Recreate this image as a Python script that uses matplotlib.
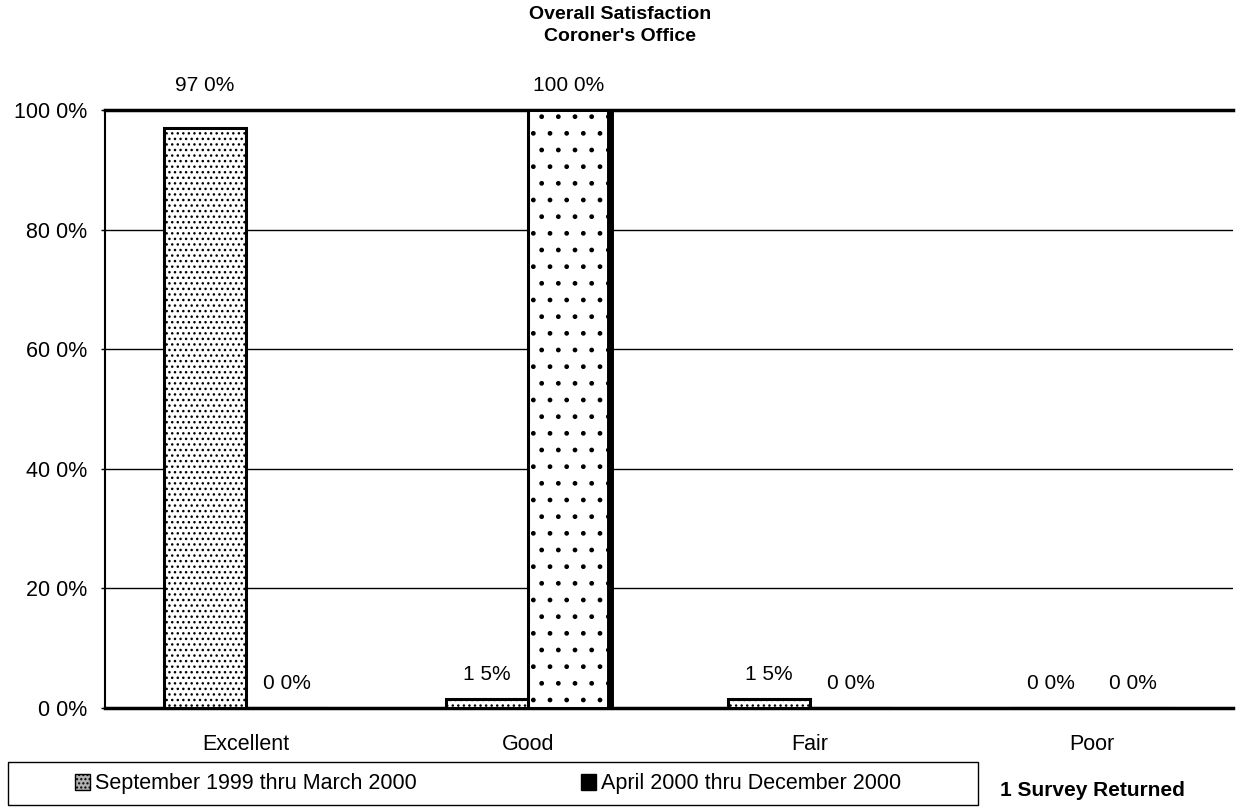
import matplotlib.pyplot as plt
from matplotlib.patches import Patch, Rectangle
import numpy as np

categories = ["Excellent", "Good", "Fair", "Poor"]
period1 = [97.0, 1.5, 1.5, 0.0]
period2 = [0.0, 100.0, 0.0, 0.0]
labels1 = ["97 0%", "1 5%", "1 5%", "0 0%"]
labels2 = ["0 0%", "100 0%", "0 0%", "0 0%"]
series_names = ["September 1999 thru March 2000", "April 2000 thru December 2000"]
yticks = [0, 20, 40, 60, 80, 100]
ytick_labels = ["0 0%", "20 0%", "40 0%", "60 0%", "80 0%", "100 0%"]

plt.rcParams["font.family"] = ["Liberation Sans", "DejaVu Sans"]

W, H = 1236, 807
fig = plt.figure(figsize=(W / 100, H / 100), dpi=100)
ax = fig.add_axes([105 / W, 1 - 708 / H, 1128 / W, 598 / H])

x = np.arange(len(categories))
w = 0.29
b1 = ax.bar(x - w / 2, period1, w, color="white", edgecolor="black", linewidth=2.2,
            hatch="...", zorder=3)
b2 = ax.bar(x + w / 2, period2, w, color="white", edgecolor="black", linewidth=2.2,
            hatch=".", zorder=3)
# scan shows a heavy right edge on the dark series
for bar in b2:
    if bar.get_height() > 0:
        ax.plot([bar.get_x() + bar.get_width()] * 2, [0, bar.get_height()],
                color="black", linewidth=5, zorder=4, solid_capstyle="butt")

# Excel lifted the 97% label to the top row
for xi, v, t in zip(x - w / 2, period1, labels1):
    y = 100 if v > 90 else v
    ax.annotate(t, (xi, y), xytext=(0, 11), textcoords="offset points",
                ha="center", va="bottom", fontsize=15, annotation_clip=False)
for xi, v, t in zip(x + w / 2, period2, labels2):
    ax.annotate(t, (xi, v), xytext=(0, 11), textcoords="offset points",
                ha="center", va="bottom", fontsize=15, annotation_clip=False)

ax.set_xlim(-0.5, 3.5)
ax.set_ylim(0, 100)
ax.set_yticks(yticks)
ax.set_yticklabels(ytick_labels, fontsize=15.5)
ax.set_xticks(x)
ax.set_xticklabels(categories, fontsize=15.5)
ax.tick_params(axis="x", length=0, pad=19)
ax.tick_params(axis="y", length=3, width=1, pad=10)
ax.yaxis.grid(True, color="black", linewidth=1.0, zorder=0)
ax.set_axisbelow(True)

ax.spines["top"].set_linewidth(2.5)
ax.spines["bottom"].set_linewidth(2.5)
ax.spines["left"].set_linewidth(1.5)
ax.spines["right"].set_visible(False)

fig.text(0.502, 0.992, "Overall Satisfaction", ha="center", va="top",
         fontsize=14, fontweight="bold")
fig.text(0.502, 0.965, "Coroner's Office", ha="center", va="top",
         fontsize=14, fontweight="bold")

# legend box
fig.patches.append(Rectangle((8 / W, 1 - 805 / H), 970 / W, 43 / H, transform=fig.transFigure,
                             fill=False, edgecolor="black", linewidth=1.0))
handles = [Patch(facecolor="#b0b0b0", edgecolor="black", hatch="...."),
           Patch(facecolor="black", edgecolor="black")]
leg = fig.legend(handles=handles, labels=series_names, loc="center left",
                 bbox_to_anchor=(75 / W, 1 - 784 / H), ncol=2, fontsize=15.5,
                 frameon=False, handlelength=0.7, handleheight=0.7,
                 handletextpad=0.25, columnspacing=7.6, borderpad=0, borderaxespad=0)

fig.text(1000 / W, 1 - 790 / H, "1 Survey Returned", ha="left", va="center",
         fontsize=15, fontweight="bold")

fig.savefig("out.png", dpi=100)
